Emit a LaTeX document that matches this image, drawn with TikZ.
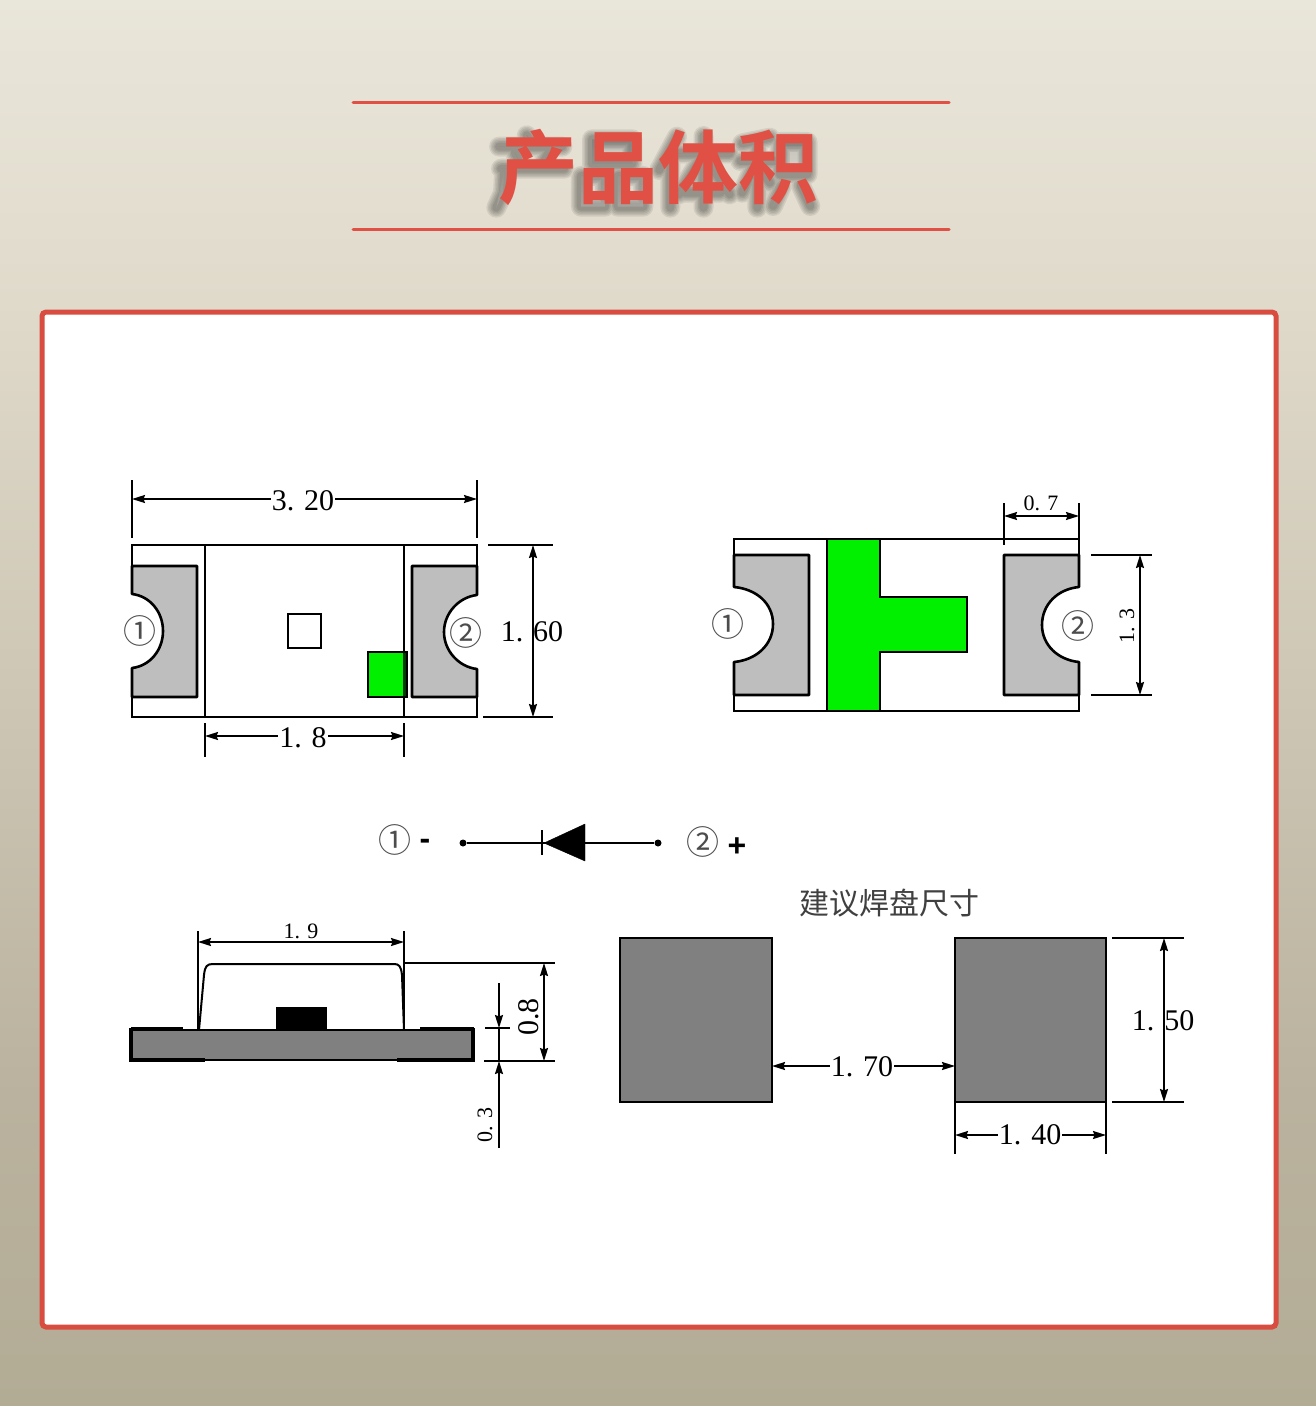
\documentclass[tikz,border=0pt]{standalone}
\usepackage{fontspec}
\usetikzlibrary{arrows.meta}
\setmainfont{Liberation Serif}
\newfontfamily\cjk{Noto Sans CJK SC}
\newfontfamily\cjkbold{Noto Sans CJK SC Bold}
\newfontfamily\signfont{Liberation Sans Bold}
\newcommand{\bigsize}{\fontsize{30}{30}\selectfont}
\newcommand{\smallsize}{\fontsize{22}{22}\selectfont}
\definecolor{redline}{HTML}{E05044}
\definecolor{cardred}{HTML}{D94C40}
\definecolor{padgrey}{HTML}{BEBEBE}
\definecolor{darkgrey}{HTML}{808080}
\definecolor{ledgreen}{HTML}{00F000}
\definecolor{paper-t}{HTML}{E9E6DA}
\definecolor{paper-b}{HTML}{E0DACB}
\definecolor{paper-c}{HTML}{BAB29E}
\definecolor{paper-d}{HTML}{B3AC95}
\definecolor{shade}{HTML}{8A8474}
\pgfdeclareverticalshading{paper}{100bp}{
    color(0bp)=(paper-d); color(25bp)=(paper-d); color(36bp)=(paper-c);
    color(64.3bp)=(paper-b); color(75bp)=(paper-t); color(100bp)=(paper-t)}

\begin{document}
\begin{tikzpicture}[x=1pt,y=-1pt,
    >={Stealth[length=13pt,width=8pt,inset=1.5pt]},
    part/.style={draw=black, line width=2.6pt},
    pad/.style={part, fill=padgrey, line join=round},
    dimline/.style={line width=1.8pt, <->},
    extline/.style={line width=2pt},
    bigdim/.style={font=\bigsize, inner sep=1pt},
    bigcut/.style={bigdim, fill=white},
    smalldim/.style={font=\smallsize, inner sep=1pt},
    pinlabel/.style={font=\cjk\fontsize{33}{33}\selectfont, inner sep=0pt, text=black!70},
    signlabel/.style={font=\signfont\fontsize{32}{32}\selectfont, inner sep=0pt},
    wire/.style={circle, fill=black, minimum size=7pt, inner sep=0pt}]
    \useasboundingbox (0,0) rectangle (1316,1406);

    % Background and card
    \fill[shading=paper] (0,0) rectangle (1316,1406);
    \draw[cardred, line width=5pt, fill=white, rounded corners=4pt] (42,312) rectangle (1276,1327);

    % Title
    \draw[redline, line width=3pt, line cap=round] (353,102) -- (949,102);
    \draw[redline, line width=3pt, line cap=round] (353,229) -- (949,229);
    \begin{scope}[shift={(335,96)}, x=0.3954pt, y=-0.3333pt]
        \foreach \w in {8,11,14,17,20}
            \draw[shade, opacity=.08, line width=\w pt, line join=round, line cap=round]
                (485,118) -- (498,140) (415,152) -- (575,152) (455,170) -- (470,205) (540,170) -- (525,205)
                (420,218) -- (580,218) (428,218) -- (425,290) -- (408,335)
                (650,130) -- (752,130) -- (752,203) -- (650,203) -- cycle
                (622,240) -- (683,240) -- (683,332) -- (622,332) -- cycle
                (715,240) -- (780,240) -- (780,332) -- (715,332) -- cycle
                (865,122) -- (820,222) (848,180) -- (848,335) (870,172) -- (998,172) (932,120) -- (932,335)
                (925,190) -- (870,295) (940,190) -- (998,295) (885,290) -- (975,290)
                (1100,125) -- (1030,142) (1025,195) -- (1125,195) (1068,135) -- (1068,335)
                (1060,210) -- (1030,290) (1075,220) -- (1100,260)
                (1125,138) -- (1195,138) -- (1195,235) -- (1125,235) -- cycle
                (1130,270) -- (1108,330) (1178,268) -- (1202,330);
    \end{scope}
    \node[font=\cjkbold\fontsize{80}{80}\selectfont, text=redline] (title) at (658,167) {产品体积};

    % First view
    \draw[part] (132,594) -- (132,545) -- (477,545) -- (477,595);
    \draw[part] (132,668) -- (132,717) -- (477,717) -- (477,669);
    \draw[part] (205,545) -- (205,717);
    \draw[part] (404,545) -- (404,717);
    \draw[pad] (132,566) -- (197,566) -- (197,697) -- (132,697) -- (132,668) .. controls (150,666) and (163,650) .. (163,631) .. controls (163,612) and (150,596) .. (132,594) -- cycle;
    \draw[pad] (477,566) -- (412,566) -- (412,697) -- (477,697) -- (477,669) .. controls (459,667) and (444,651) .. (444,632) .. controls (444,613) and (459,597) .. (477,595) -- cycle;
    \draw[part] (288,614) rectangle (321,648);
    \fill[ledgreen] (368,652) rectangle (407,697);
    \fill[black!75!ledgreen] (403,652) rectangle (407,697);
    \draw[part] (368,652) rectangle (407,697);
    \node[pinlabel] (first-one) at (140,631) {①};
    \node[pinlabel] (first-two) at (466,633) {②};

    \draw[extline] (132,480) -- (132,538);
    \draw[extline] (477,480) -- (477,538);
    \coordinate (first-top-l) at (132,499);
    \coordinate (first-top-r) at (477,499);
    \draw[dimline] (first-top-l) -- (first-top-r);
    \node[bigcut] (first-top) at (303,501) {3. 20};

    \draw[extline] (488,545) -- (553,545);
    \draw[extline] (483,717) -- (553,717);
    \coordinate (first-side-t) at (533,545);
    \coordinate (first-side-b) at (533,717);
    \draw[dimline] (first-side-t) -- (first-side-b);
    \node[bigdim] (first-side) at (532,632) {1. 60};

    \draw[extline] (205,723) -- (205,757);
    \draw[extline] (404,723) -- (404,757);
    \coordinate (first-low-l) at (205,736);
    \coordinate (first-low-r) at (404,736);
    \draw[dimline] (first-low-l) -- (first-low-r);
    \node[bigcut] (first-low) at (303,738) {1. 8};

    % Second view
    \draw[part] (734,587) -- (734,539) -- (1079,539) -- (1079,587);
    \draw[part] (734,662) -- (734,711) -- (1079,711) -- (1079,662);
    \draw[pad] (734,555) -- (809,555) -- (809,695) -- (734,695) -- (734,662) .. controls (756,660) and (773,645) .. (773,624) .. controls (773,603) and (756,589) .. (734,587) -- cycle;
    \draw[pad] (1079,555) -- (1004,555) -- (1004,695) -- (1079,695) -- (1079,662) .. controls (1058,660) and (1042,645) .. (1042,625) .. controls (1042,604) and (1058,589) .. (1079,587) -- cycle;
    \draw[part, fill=ledgreen] (827,539) -- (880,539) -- (880,597) -- (967,597) -- (967,652) -- (880,652) -- (880,711) -- (827,711) -- cycle;
    \node[pinlabel] (second-one) at (728,624) {①};
    \node[pinlabel] (second-two) at (1078,626) {②};

    \draw[extline] (1004,503) -- (1004,545);
    \draw[extline] (1079,503) -- (1079,539);
    \coordinate (second-top-l) at (1004,516);
    \coordinate (second-top-r) at (1079,516);
    \draw[dimline] (second-top-l) -- (second-top-r);
    \node[smalldim] (second-top) at (1041,503) {0. 7};

    \draw[extline] (1091,555) -- (1152,555);
    \draw[extline] (1091,695) -- (1152,695);
    \coordinate (second-side-t) at (1140,555);
    \coordinate (second-side-b) at (1140,695);
    \draw[dimline] (second-side-t) -- (second-side-b);
    \node[smalldim, rotate=90] (second-side) at (1127,626) {1. 3};

    % Diode
    \node[pinlabel] (diode-one) at (395,840) {①};
    \node[signlabel] (diode-minus) at (425,844) {-};
    \node[wire] (diode-l) at (463,843) {};
    \node[wire] (diode-r) at (658,843) {};
    \draw[line width=2.4pt] (diode-l) -- (diode-r);
    \draw[line width=2.4pt] (542,830) -- (542,855);
    \fill[line join=round, draw=black] (544,843) -- (585,824) -- (585,861) -- cycle;
    \node[pinlabel] (diode-two) at (703,842) {②};
    \node[signlabel] (diode-plus) at (737,847) {+};

    % Side view
    \draw[line width=2pt, line join=round] (199,1030) -- (204,975) .. controls (205,966) and (207,964) .. (213,964) -- (394,964) .. controls (399,964) and (401,966) .. (402,975) -- (404,1030);
    \fill[black] (276,1007) rectangle (327,1030);
    \draw[line width=2.4pt, fill=darkgrey] (130,1030) rectangle (474,1060);
    \draw[line width=4pt] (131,1029) -- (183,1029);
    \draw[line width=4pt] (420,1029) -- (474,1029);
    \draw[line width=4pt] (131,1060) -- (205,1060);
    \draw[line width=4pt] (397,1060) -- (474,1060);
    \draw[line width=4pt] (131,1028) -- (131,1062);
    \draw[line width=4pt] (473,1028) -- (473,1062);

    \draw[extline] (198,931) -- (198,1030);
    \draw[extline] (404,931) -- (404,1030);
    \coordinate (side-top-l) at (198,942);
    \coordinate (side-top-r) at (404,942);
    \draw[dimline] (side-top-l) -- (side-top-r);
    \node[smalldim] (side-top) at (301,931) {1. 9};

    \draw[extline] (404,963) -- (555,963);
    \draw[extline] (484,1061) -- (555,1061);
    \coordinate (side-high-t) at (544,963);
    \coordinate (side-high-b) at (544,1061);
    \draw[dimline] (side-high-t) -- (side-high-b);
    \node[bigdim, rotate=90] (side-high) at (529,1017) {0.8};

    \draw[extline] (485,1028) -- (510,1028);
    \coordinate (side-foot-a) at (499,983);
    \coordinate (side-foot-b) at (499,1028);
    \coordinate (side-foot-c) at (499,1061);
    \coordinate (side-foot-d) at (499,1148);
    \draw[line width=1.8pt, ->] (side-foot-a) -- (side-foot-b);
    \draw[line width=1.8pt] (side-foot-b) -- (side-foot-c);
    \draw[line width=1.8pt, ->] (side-foot-d) -- (side-foot-c);
    \node[smalldim, rotate=90] (side-foot) at (485,1125) {0. 3};

    % Pads
    \node[font=\cjk\fontsize{30}{30}\selectfont, inner sep=0pt, text=black!75] (pad-title) at (889,903) {建议焊盘尺寸};
    \draw[part, fill=darkgrey] (620,938) rectangle (772,1102);
    \draw[part, fill=darkgrey] (955,938) rectangle (1106,1102);

    \coordinate (pad-gap-l) at (772,1066);
    \coordinate (pad-gap-r) at (955,1066);
    \draw[dimline] (pad-gap-l) -- (pad-gap-r);
    \node[bigcut] (pad-gap) at (862,1067) {1. 70};

    \draw[extline] (1112,938) -- (1184,938);
    \draw[extline] (1112,1102) -- (1184,1102);
    \coordinate (pad-side-t) at (1164,938);
    \coordinate (pad-side-b) at (1164,1102);
    \draw[dimline] (pad-side-t) -- (pad-side-b);
    \node[bigdim] (pad-side) at (1163,1021) {1. 50};

    \draw[extline] (955,1102) -- (955,1154);
    \draw[extline] (1106,1102) -- (1106,1154);
    \coordinate (pad-low-l) at (955,1135);
    \coordinate (pad-low-r) at (1106,1135);
    \draw[dimline] (pad-low-l) -- (pad-low-r);
    \node[bigcut] (pad-low) at (1030,1135) {1. 40};
\end{tikzpicture}
\end{document}
